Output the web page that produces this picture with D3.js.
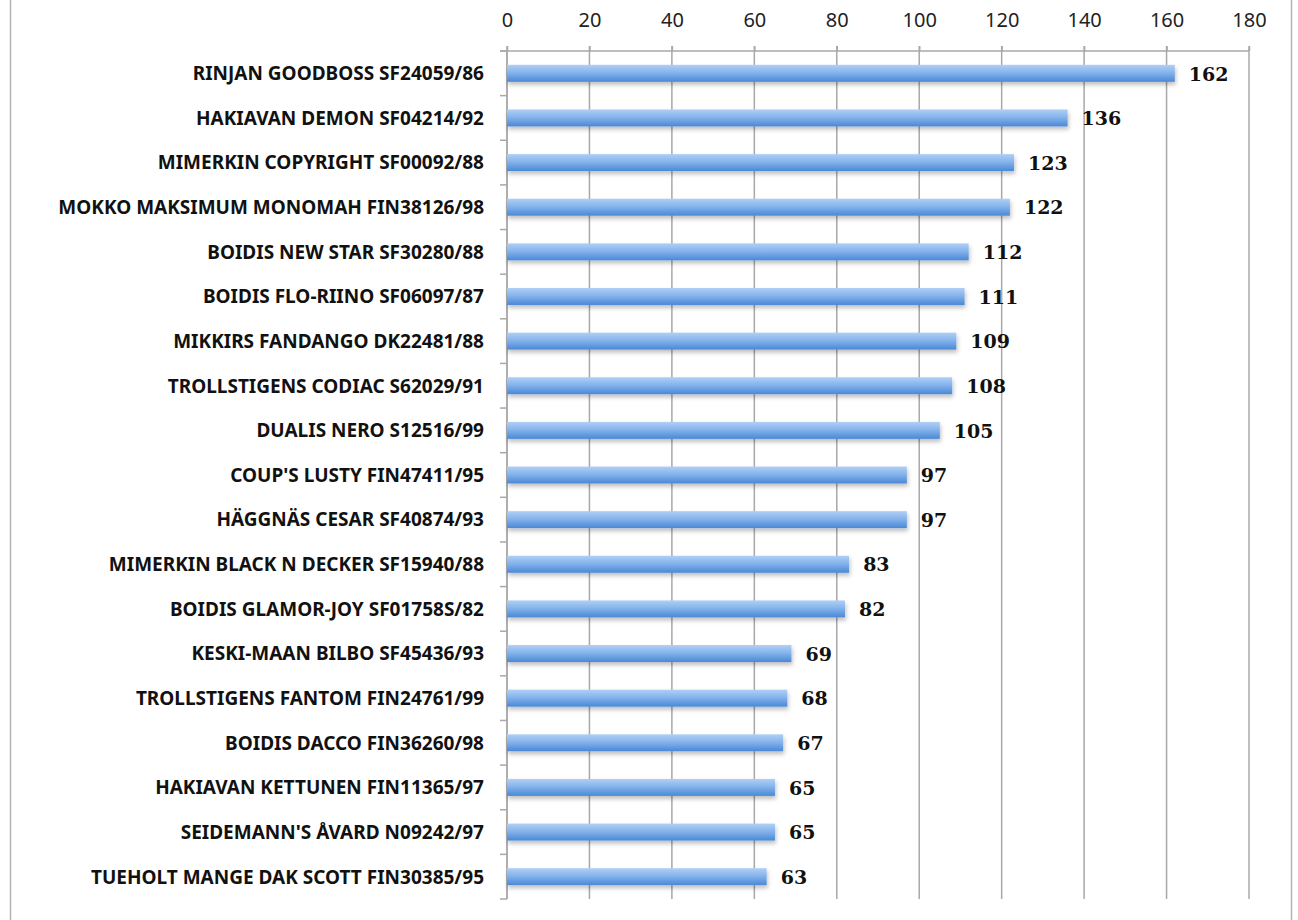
<!DOCTYPE html>
<html>
<head>
<meta charset="utf-8">
<script src="https://cdn.jsdelivr.net/npm/d3@7"></script>
<style>
  body { margin: 0; background: #fff; }
  svg { display: block; }
</style>
</head>
<body>
<div id="chart"></div>
<script>
// chart data
const dogs = [
  "RINJAN GOODBOSS SF24059/86",
  "HAKIAVAN DEMON SF04214/92",
  "MIMERKIN COPYRIGHT SF00092/88",
  "MOKKO MAKSIMUM MONOMAH FIN38126/98",
  "BOIDIS NEW STAR SF30280/88",
  "BOIDIS FLO-RIINO SF06097/87",
  "MIKKIRS FANDANGO DK22481/88",
  "TROLLSTIGENS CODIAC S62029/91",
  "DUALIS NERO S12516/99",
  "COUP'S LUSTY FIN47411/95",
  "HÄGGNÄS CESAR SF40874/93",
  "MIMERKIN BLACK N DECKER SF15940/88",
  "BOIDIS GLAMOR-JOY SF01758S/82",
  "KESKI-MAAN BILBO SF45436/93",
  "TROLLSTIGENS FANTOM FIN24761/99",
  "BOIDIS DACCO FIN36260/98",
  "HAKIAVAN KETTUNEN FIN11365/97",
  "SEIDEMANN'S ÅVARD N09242/97",
  "TUEHOLT MANGE DAK SCOTT FIN30385/95"
];
const counts = [162, 136, 123, 122, 112, 111, 109, 108, 105, 97, 97, 83, 82, 69, 68, 67, 65, 65, 63];
const xTicks = [0, 20, 40, 60, 80, 100, 120, 140, 160, 180];

const width = 1298, height = 920;
const plotLeft = 507, plotRight = 1249, plotTop = 51, plotBottom = 899;

const svg = d3.select('#chart').append('svg')
  .attr('width', width)
  .attr('height', height);

const defs = svg.append('defs');
const grad = defs.append('linearGradient')
  .attr('id', 'barGrad')
  .attr('x1', 0).attr('y1', 0).attr('x2', 0).attr('y2', 1);
grad.append('stop').attr('offset', '0%').attr('stop-color', '#b0cff5');
grad.append('stop').attr('offset', '45%').attr('stop-color', '#85b4ec');
grad.append('stop').attr('offset', '100%').attr('stop-color', '#4a88d6');

const shadow = defs.append('filter')
  .attr('id', 'shadow')
  .attr('x', '-5%').attr('y', '-30%').attr('width', '110%').attr('height', '190%');
shadow.append('feDropShadow')
  .attr('dx', 1).attr('dy', 3).attr('stdDeviation', 2)
  .attr('flood-color', '#000').attr('flood-opacity', 0.25);

// frame sides
svg.append('line').attr('x1', 10.5).attr('x2', 10.5).attr('y1', 0).attr('y2', height)
  .attr('stroke', '#b4b4b4').attr('stroke-width', 1.5);
svg.append('line').attr('x1', 1291.5).attr('x2', 1291.5).attr('y1', 0).attr('y2', height)
  .attr('stroke', '#b4b4b4').attr('stroke-width', 1.5);

// scales
const x = d3.scaleLinear().domain([0, 180]).range([plotLeft, plotRight]);
const y = d3.scaleBand().domain(dogs).range([plotTop, plotBottom])
  .paddingInner(0.62).paddingOuter(0.31);

// vertical gridlines
svg.append('g')
  .selectAll('line')
  .data(xTicks)
  .join('line')
  .attr('x1', d => x(d)).attr('x2', d => x(d))
  .attr('y1', plotTop - 5).attr('y2', plotBottom)
  .attr('stroke', '#a8a8a8')
  .attr('stroke-width', 1.5);

// top axis
const xAxis = svg.append('g')
  .attr('transform', `translate(0,${plotTop})`)
  .call(d3.axisTop(x).tickValues(xTicks).tickSize(5).tickPadding(19));
xAxis.select('.domain').remove();
xAxis.selectAll('.tick line').attr('stroke', '#a8a8a8').attr('stroke-width', 1.5);
xAxis.selectAll('.tick text')
  .attr('font-family', '"Noto Sans", "Open Sans", sans-serif')
  .attr('font-size', 20)
  .attr('fill', '#222');
svg.append('line')
  .attr('x1', plotLeft - 7).attr('x2', plotRight)
  .attr('y1', plotTop).attr('y2', plotTop)
  .attr('stroke', '#a8a8a8').attr('stroke-width', 1.5);

// left axis with ticks at band edges
const step = y.step();
const edges = d3.range(dogs.length + 1).map(i => plotTop + i * step);
svg.append('line')
  .attr('x1', plotLeft).attr('x2', plotLeft)
  .attr('y1', plotTop).attr('y2', plotBottom)
  .attr('stroke', '#a8a8a8').attr('stroke-width', 1.5);
svg.append('g')
  .selectAll('line')
  .data(edges)
  .join('line')
  .attr('x1', plotLeft - 7).attr('x2', plotLeft)
  .attr('y1', d => d).attr('y2', d => d)
  .attr('stroke', '#a8a8a8').attr('stroke-width', 1.5);

// category labels
svg.append('g')
  .selectAll('text')
  .data(dogs)
  .join('text')
  .attr('x', 484)
  .attr('y', d => y(d) + y.bandwidth() / 2)
  .attr('dy', '0.36em')
  .attr('text-anchor', 'end')
  .attr('font-family', '"Noto Sans", "Open Sans", sans-serif')
  .attr('font-weight', 'bold')
  .attr('font-size', 19)
  .attr('fill', '#111')
  .text(d => d);

// bars
svg.append('g')
  .selectAll('rect')
  .data(counts)
  .join('rect')
  .attr('x', x(0))
  .attr('y', (d, i) => y(dogs[i]))
  .attr('width', d => x(d) - x(0))
  .attr('height', y.bandwidth())
  .attr('fill', 'url(#barGrad)')
  .attr('filter', 'url(#shadow)');

// value labels
svg.append('g')
  .selectAll('text')
  .data(counts)
  .join('text')
  .attr('x', d => x(d) + 14)
  .attr('y', (d, i) => y(dogs[i]) + y.bandwidth() / 2)
  .attr('dy', '0.38em')
  .attr('font-family', '"DejaVu Serif", serif')
  .attr('font-weight', 'bold')
  .attr('font-size', 19)
  .attr('fill', '#111')
  .text(d => d);
</script>
</body>
</html>
